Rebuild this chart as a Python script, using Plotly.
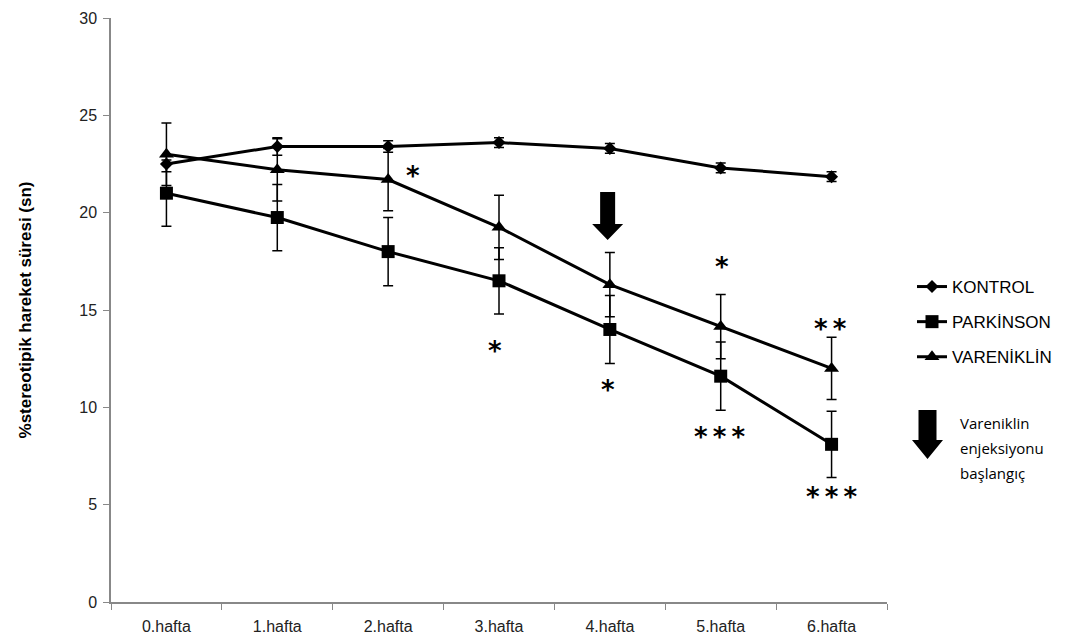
import plotly.graph_objects as go

weeks = ["0.hafta", "1.hafta", "2.hafta", "3.hafta", "4.hafta", "5.hafta", "6.hafta"]

kontrol = [22.5, 23.4, 23.4, 23.6, 23.3, 22.3, 21.85]
kontrol_err = [0.4, 0.45, 0.3, 0.25, 0.25, 0.25, 0.25]

parkinson = [21.0, 19.75, 18.0, 16.5, 14.0, 11.6, 8.1]
parkinson_err = [1.7, 1.7, 1.75, 1.7, 1.75, 1.75, 1.7]

vareniklin = [23.0, 22.2, 21.7, 19.25, 16.3, 14.15, 12.0]
vareniklin_err = [1.6, 1.6, 1.6, 1.65, 1.65, 1.65, 1.6]

# significance marks: (week, y value, text, horizontal nudge)
sig_marks = [
    ("2.hafta", 21.9, "*", 25),
    ("3.hafta", 12.9, "*", -4),
    ("4.hafta", 10.9, "*", -2),
    ("5.hafta", 17.2, "*", 1),
    ("5.hafta", 8.5, "*\u2009*\u2009*", -1),
    ("6.hafta", 14.0, "*\u2009*", -1),
    ("6.hafta", 5.4, "*\u2009*\u2009*", 0),
]

legend_note = ["Vareniklin", "enjeksiyonu", "başlangıç"]

W, H = 1081, 644
L, T, R, B = 111, 18, 1081 - 887, 644 - 602
PW = W - L - R
PH = H - T - B

fig = go.Figure()

series = [
    ("KONTROL", kontrol, kontrol_err, "diamond", 10),
    ("PARKİNSON", parkinson, parkinson_err, "square", 13),
    ("VARENİKLİN", vareniklin, vareniklin_err, "triangle-up", 13),
]
for i, (name, vals, errs, sym, size) in enumerate(series):
    fig.add_trace(go.Scatter(
        x=weeks, y=vals, name=name, mode="lines+markers",
        line=dict(color="black", width=3),
        marker=dict(symbol=sym, size=size, color="black"),
        error_y=dict(type="data", array=errs, visible=True, color="black",
                     thickness=1.5, width=5),
        legendgroup=f"g{i}",
    ))

for wk, yv, txt, xs in sig_marks:
    fig.add_annotation(x=wk, y=yv, text=txt, showarrow=False, xshift=xs,
                       font=dict(family="DejaVu Sans", size=26, color="black", weight="bold"),
                       yanchor="middle")


def px_x(px):
    return (px - L) / PW


def px_y(py):
    return (H - B - py) / PH


# arrow marking the start of vareniklin injection
fig.add_shape(type="path", xref="x", yref="y", xsizemode="pixel", ysizemode="pixel",
              xanchor=3.98, yanchor=21.06,
              path="M-7.5,0 L7.5,0 L7.5,-32 L15.5,-32 L0,-48 L-15.5,-32 L-7.5,-32 Z",
              fillcolor="black", line=dict(width=0))

# legend arrow
fig.add_shape(type="path", xref="paper", yref="paper", xsizemode="pixel", ysizemode="pixel",
              xanchor=px_x(927.5), yanchor=px_y(410),
              path="M-9,0 L9,0 L9,-30 L15.5,-30 L0,-49 L-15.5,-30 L-9,-30 Z",
              fillcolor="black", line=dict(width=0))
for k, line in enumerate(legend_note):
    fig.add_annotation(xref="paper", yref="paper", x=px_x(958), y=px_y(423 + 25 * k),
                       xanchor="left", yanchor="middle", align="left", showarrow=False,
                       text=line,
                       font=dict(family="Open Sans, Lato, sans-serif", size=15, color="black"))

fig.update_layout(
    width=W, height=H,
    margin=dict(l=L, r=R, t=T, b=B, autoexpand=False),
    plot_bgcolor="white", paper_bgcolor="white",
    font=dict(family="Liberation Sans, Arial", size=16, color="black"),
    legend=dict(x=px_x(912), y=px_y(269), xanchor="left", yanchor="top",
                traceorder="grouped", tracegroupgap=10,
                font=dict(family="Liberation Sans, Arial", size=17, color="black"),
                bgcolor="rgba(0,0,0,0)", itemwidth=30),
    xaxis=dict(showline=True, linecolor="#888888", linewidth=1.5, ticks="outside",
               tickcolor="#888888", ticklen=6, tickson="boundaries", ticklabelstandoff=9,
               automargin=False,
               showgrid=False, zeroline=False, tickfont=dict(size=16, color="#222222"),
               range=[-0.5, 6.5]),
    yaxis=dict(range=[0, 30], dtick=5, showline=True, linecolor="#888888", linewidth=1.5,
               ticks="outside", tickcolor="#888888", ticklen=6, showgrid=False,
               ticklabelstandoff=3, automargin=False,
               zeroline=False, tickfont=dict(size=16, color="#222222"),
               title=dict(text="<b>%stereotipik hareket süresi (sn)</b>",
                          font=dict(size=17), standoff=43)),
)

fig.write_html("out.html", config={"displayModeBar": False},
               post_script="document.body.style.margin='0';")
